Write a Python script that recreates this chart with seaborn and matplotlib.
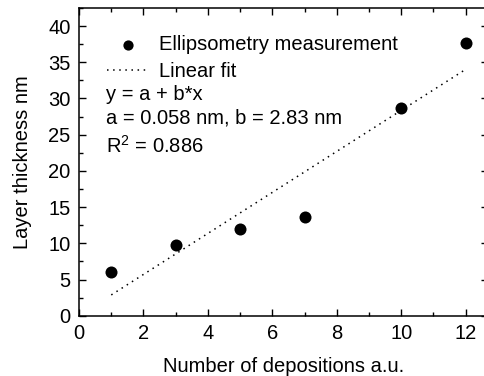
import numpy as np
import pandas as pd
import matplotlib
matplotlib.use("Agg")
import matplotlib.pyplot as plt
import seaborn as sns
from matplotlib.ticker import MultipleLocator

# measured data
depositions = [1, 3, 5, 7, 10, 12]
thickness = [6.1, 9.8, 12.0, 13.6, 28.7, 37.7]

# linear fit parameters shown on the chart
a = 0.058
b = 2.83
r2 = 0.886

df = pd.DataFrame({'x': depositions, 'y': thickness})
fit = pd.DataFrame({'x': [depositions[0], depositions[-1]]})
fit['y'] = a + b * fit['x']

sns.set_style('ticks')
plt.rcParams['font.family'] = ['Liberation Sans', 'DejaVu Sans']
plt.rcParams['mathtext.fontset'] = 'custom'
plt.rcParams['mathtext.rm'] = 'Liberation Sans'
for k in ['text.color', 'axes.labelcolor', 'xtick.color', 'ytick.color',
          'xtick.labelcolor', 'ytick.labelcolor']:
    plt.rcParams[k] = 'black'
fs = 14.5

fig = plt.figure(figsize=(4.85, 3.76), dpi=100)
ax = fig.add_axes([0.163, 0.16, 0.843, 0.819])

sns.lineplot(data=fit, x='x', y='y', ax=ax, color='black', lw=1.1,
             label='Linear fit')
ax.lines[-1].set_dashes((1, 3))
sns.scatterplot(data=df, x='x', y='y', ax=ax, color='black', s=75,
                edgecolor='black', linewidth=0, label='Ellipsometry measurement',
                zorder=3)

ax.set_xlim(0, 12.69)
ax.set_ylim(0, 42.5)
ax.xaxis.set_major_locator(MultipleLocator(2))
ax.xaxis.set_minor_locator(MultipleLocator(1))
ax.yaxis.set_major_locator(MultipleLocator(5))
ax.yaxis.set_minor_locator(MultipleLocator(2.5))
ax.tick_params(which='both', direction='in', top=True, right=True,
               labelsize=fs, width=1, color='black', labelcolor='black', pad=6)
ax.tick_params(which='major', length=5)
ax.tick_params(which='minor', length=3)
for s in ax.spines.values():
    s.set_linewidth(1.1)
    s.set_color('black')

ax.set_xlabel('Number of depositions a.u.', fontsize=fs, labelpad=10, color='black')
ax.set_ylabel('Layer thickness nm', fontsize=fs, labelpad=12, color='black')

h, l = ax.get_legend_handles_labels()
order = [l.index('Ellipsometry measurement'), l.index('Linear fit')]
leg = ax.legend([h[i] for i in order], [l[i] for i in order], loc='upper left',
                bbox_to_anchor=(0.069, 0.912), frameon=False, fontsize=fs,
                handlelength=2.05, handletextpad=0.5, labelspacing=0.4,
                borderaxespad=0, borderpad=0, markerscale=0.85)
for t in leg.get_texts():
    t.set_color('black')

ax.text(0.066, 0.701, 'y = a + b*x', transform=ax.transAxes, fontsize=fs,
        va='baseline', color='black')
ax.text(0.066, 0.623, f'a = {a} nm, b = {b} nm', transform=ax.transAxes,
        fontsize=fs, va='baseline', color='black')
ax.text(0.066, 0.529, f'R$^2$ = {r2}', transform=ax.transAxes, fontsize=fs,
        va='baseline', color='black')

fig.savefig('out.png', dpi=100)
